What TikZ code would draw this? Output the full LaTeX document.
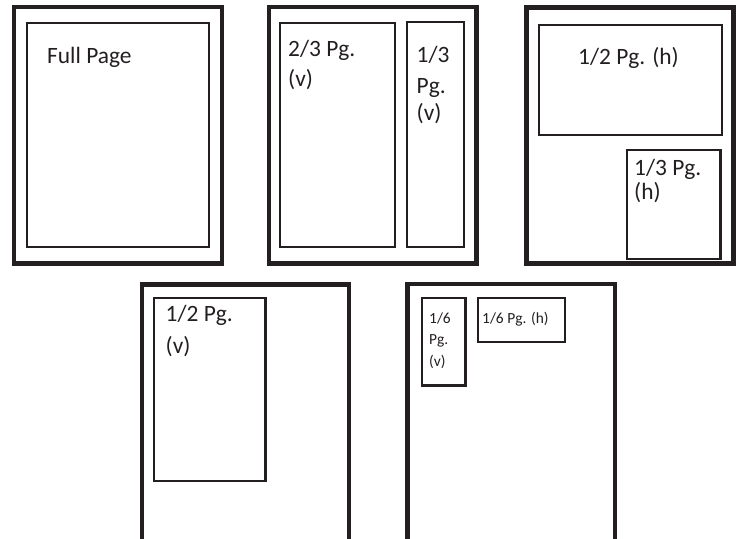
\documentclass[tikz,border=0pt]{standalone}
\usepackage{fontspec}
\setmainfont{Carlito}
\definecolor{ink}{HTML}{231F20}
\begin{document}
\begin{tikzpicture}[x=1bp,y=-1bp,
  outer/.style={draw=ink,line width=4.6bp},
  inner/.style={draw=ink,line width=2.3bp},
  lbl/.style={anchor=base west,inner sep=0pt,text=ink,font=\fontsize{23.5}{27}\selectfont},
  slbl/.style={anchor=base west,inner sep=0pt,text=ink,font=\fontsize{15.5}{18}\selectfont}]
\useasboundingbox (0,0) rectangle (739,539);
\clip (0,0) rectangle (739,539);
% panel 1: full page
\draw[outer] (14,7) rectangle (222,263.5);
\draw[inner] (27,23) rectangle (209,247);
\node[lbl] (full) at (47,64) {Full Page};
% panel 2
\draw[outer] (269,7) rectangle (476.5,263.5);
\draw[inner] (280,23) rectangle (395.3,246.7);
\draw[inner] (406.7,22) rectangle (464,247);
\node[lbl] (twothirdsA) at (288,56.7) {2/3 Pg.};
\node[lbl] (twothirdsB) at (288,86.5) {(v)};
\node[lbl] (onethirdA) at (416.5,63) {1/3};
\node[lbl] (onethirdB) at (416.5,94) {Pg.};
\node[lbl] (onethirdC) at (416.5,121) {(v)};
% panel 3
\draw[outer] (526.5,7.5) rectangle (733.5,263.5);
\draw[inner] (538.7,25.3) rectangle (722,135.3);
\draw[inner] (627.2,150) rectangle (720.5,259);
\node[lbl] (halfh) at (578,65) {1/2 Pg. (h)};
\node[lbl] (thirdhA) at (634,175.5) {1/3 Pg.};
\node[lbl] (thirdhB) at (634,200) {(h)};
% panel 4
\draw[outer] (142,560) -- (142,284.5) -- (349,284.5) -- (349,560);
\draw[inner] (154.3,298.3) rectangle (265.5,481);
\node[lbl] (halfvA) at (165.5,321.5) {1/2 Pg.};
\node[lbl] (halfvB) at (165.5,353) {(v)};
% panel 5
\draw[outer] (407.5,560) -- (407.5,284) -- (615,284) -- (615,560);
\draw[inner] (421.7,298.3) rectangle (465.5,385.5);
\draw[inner] (477.7,298.3) rectangle (565,342.2);
\node[slbl] (sixthvA) at (429,323.3) {1/6};
\node[slbl] (sixthvB) at (429,344.5) {Pg.};
\node[slbl] (sixthvC) at (429,366) {(v)};
\node[slbl] (sixthh) at (482,323.3) {1/6 Pg. (h)};
\end{tikzpicture}
\end{document}
